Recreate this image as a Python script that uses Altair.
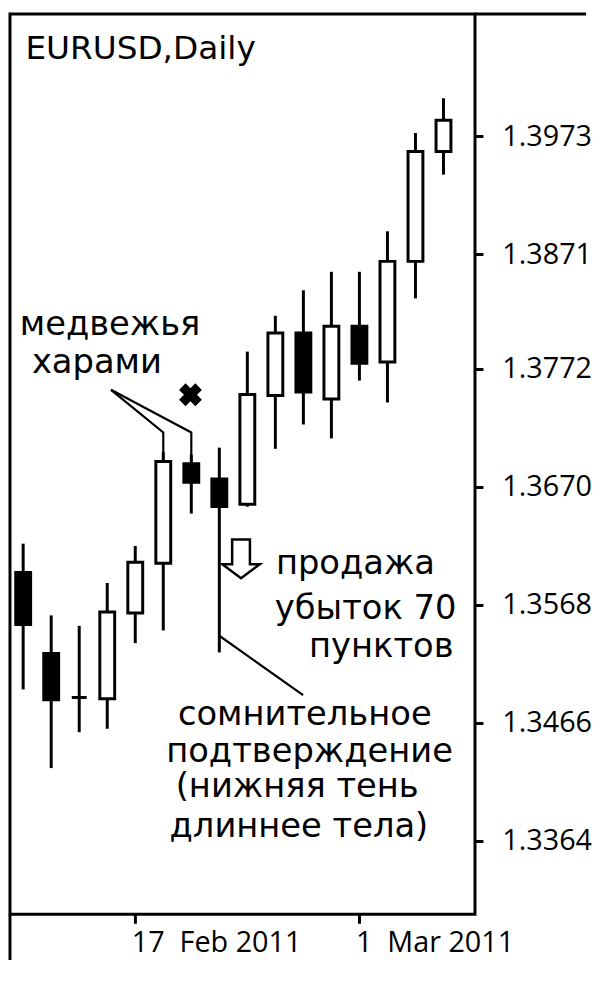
import altair as alt
import pandas as pd

# ---- data (EURUSD daily, 11 Feb 2011 .. 4 Mar 2011) ----
idx    = list(range(16))
opens  = [1.3596, 1.3526, 1.3488, 1.3487, 1.3561, 1.3604, 1.3690, 1.3677,
          1.3655, 1.3749, 1.3803, 1.3746, 1.3809, 1.3778, 1.3865, 1.3960]
highs  = [1.3621, 1.3559, 1.3550, 1.3587, 1.3619, 1.3700, 1.3698, 1.3704,
          1.3787, 1.3818, 1.3840, 1.3856, 1.3856, 1.3891, 1.3976, 1.4006]
lows   = [1.3495, 1.3427, 1.3458, 1.3461, 1.3535, 1.3546, 1.3647, 1.3527,
          1.3653, 1.3703, 1.3724, 1.3712, 1.3762, 1.3743, 1.3833, 1.3940]
closes = [1.3551, 1.3486, 1.3488, 1.3562, 1.3605, 1.3692, 1.3674, 1.3653,
          1.3750, 1.3803, 1.3752, 1.3809, 1.3777, 1.3865, 1.3960, 1.3987]

y_ticks = [1.3364, 1.3466, 1.3568, 1.3670, 1.3772, 1.3871, 1.3973]
x_tick_idx = [4, 12]
x_tick_labels = ["17\u00a0 Feb 2011", "1\u00a0 Mar 2011"]

title_text = "EURUSD,Daily"
harami_lines = ["медвежья", "харами"]
sell_lines = ["продажа", "убыток 70", "пунктов"]
doubt_lines = ["сомнительное", "подтверждение", "(нижняя тень", "длиннее тела)"]

W, H = 469, 908
X_DOM = [-0.294, 15.948]
Y_DOM = [1.3364 - (H + 8 - 842) / 11667.0, 1.40788]

df = pd.DataFrame({"i": idx, "open": opens, "high": highs, "low": lows, "close": closes})

xs = alt.Scale(domain=X_DOM, nice=False, zero=False)
ys = alt.Scale(domain=Y_DOM, nice=False, zero=False)

label_expr = " : ".join(
    f"datum.value == {v} ? '{t}'" for v, t in zip(x_tick_idx[:-1], x_tick_labels[:-1])
) + f" : '{x_tick_labels[-1]}'"

x_enc = alt.X("i:Q", scale=xs, title=None,
              axis=alt.Axis(values=x_tick_idx, labelExpr=label_expr, orient="bottom",
                            domain=False, grid=False, tickSize=9, tickWidth=3,
                            tickColor="black", labelAlign="left", labelBaseline="top",
                            labelPadding=5, labelOffset=-4, labelFont="Open Sans",
                            labelFontSize=29, labelColor="black",
                            labelFlush=False, labelOverlap=False))
y_enc = alt.Y("low:Q", scale=ys, title=None,
              axis=alt.Axis(values=y_ticks, format=".4f", orient="right", domain=False,
                            grid=False, tickSize=8, tickWidth=3, tickColor="black",
                            labelAlign="left", labelBaseline="middle", labelPadding=19,
                            labelFont="Open Sans", labelFontSize=29, labelColor="black",
                            labelFlush=False, labelOverlap=False))

base = alt.Chart(df)
wicks = base.mark_rule(color="black", strokeWidth=3).encode(x=x_enc, y=y_enc, y2="high:Q")
bodies = base.mark_bar(size=15, stroke="black", strokeWidth=3).encode(
    x=alt.X("i:Q", scale=xs),
    y=alt.Y("open:Q", scale=ys),
    y2="close:Q",
    fill=alt.condition("datum.close > datum.open", alt.value("white"), alt.value("black")),
)

# ---- annotations (data coordinates: candle index, price) ----
def text_layer(rows, align, size=34, font="DejaVu Sans"):
    d = pd.DataFrame(rows, columns=["t", "i", "p"])
    return alt.Chart(d).mark_text(align=align, baseline="alphabetic", font=font,
                                  fontSize=size, color="black").encode(
        x=alt.X("i:Q", scale=xs), y=alt.Y("p:Q", scale=ys), text="t:N")

t_title = text_layer([(title_text, 0.08, 1.40403)], "left", size=33)
t_center = text_layer([
    (harami_lines[0], 3.10, 1.38011),
    (harami_lines[1], 2.63, 1.37686),
    (doubt_lines[0], 10.05, 1.34643),
    (doubt_lines[1], 10.22, 1.34326),
    (doubt_lines[2], 9.78, 1.34017),
    (doubt_lines[3], 9.84, 1.33674),
], "center")
t_left = text_layer([
    (sell_lines[0], 9.02, 1.35946),
    (sell_lines[1], 8.98, 1.35560),
], "left")
t_right = text_layer([(sell_lines[2], 15.36, 1.35226)], "right")

leaders = pd.DataFrame({
    "g":   ["h1", "h1", "h1", "h2", "h2", "h2", "c", "c"],
    "o":   [0, 1, 2, 0, 1, 2, 0, 1],
    "i":   [3.135, 5, 5, 3.135, 6, 6, 7, 9.99],
    "p":   [1.3754, 1.37171, 1.3692, 1.3754, 1.37171, 1.3690, 1.35414, 1.3490],
})
lead = alt.Chart(leaders).mark_line(color="black", strokeWidth=2.2).encode(
    x=alt.X("i:Q", scale=xs), y=alt.Y("p:Q", scale=ys), detail="g:N", order="o:Q")

cross = alt.Chart(pd.DataFrame({"i": [5.97], "p": [1.37497]})).mark_point(
    shape="cross", angle=45, filled=True, size=540, color="black", opacity=1).encode(
    x=alt.X("i:Q", scale=xs), y=alt.Y("p:Q", scale=ys))

arrow_path = "M-0.46,-1 L0.46,-1 L0.46,0.28 L0.97,0.28 L0,1 L-0.97,0.28 L-0.46,0.28 Z"
arrow = alt.Chart(pd.DataFrame({"i": [7.775], "p": [1.36079]})).mark_point(
    shape=arrow_path, filled=False, stroke="black", strokeWidth=2.5, size=1521, opacity=1).encode(
    x=alt.X("i:Q", scale=xs), y=alt.Y("p:Q", scale=ys))

dummy = pd.DataFrame({"a": [0]})
frame_down = alt.Chart(dummy).mark_rule(color="black", strokeWidth=3).encode(
    x=alt.value(0), y=alt.value(H), y2=alt.value(H + 46))
frame_right = alt.Chart(dummy).mark_rule(color="black", strokeWidth=3).encode(
    x=alt.value(W), x2=alt.value(W + 112), y=alt.value(0))

chart = alt.layer(
    wicks, bodies, lead, cross, arrow, t_title, t_center, t_left, t_right,
    frame_down, frame_right
).properties(width=W, height=H, padding=0, background="white").configure_view(
    stroke="black", strokeWidth=3
)

chart.save("out.html", embed_options={"renderer": "svg", "actions": False})
